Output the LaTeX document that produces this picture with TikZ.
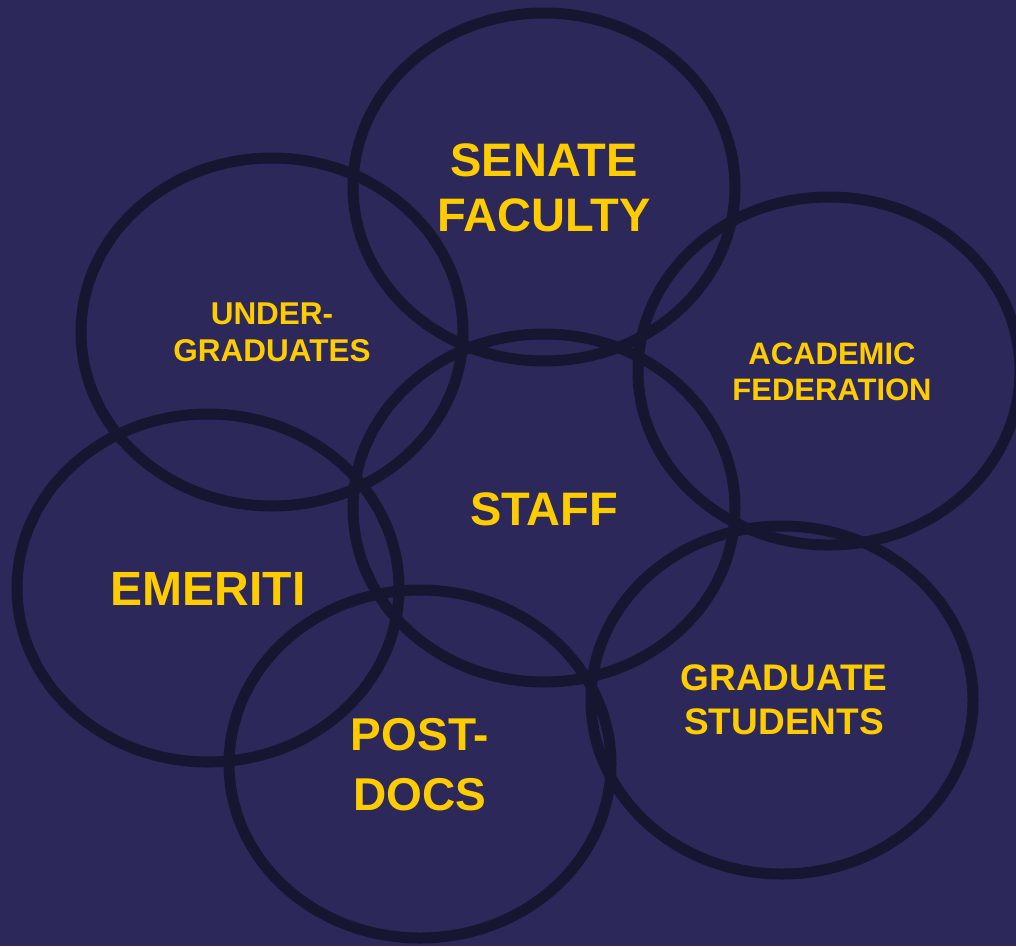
\documentclass[tikz,border=0pt]{standalone}
\usepackage{fontspec}
\setmainfont{Liberation Sans}
\definecolor{bgnavy}{HTML}{2C2859}
\definecolor{ringdark}{HTML}{171631}
\definecolor{gold}{HTML}{FFCC00}
\begin{document}
\begin{tikzpicture}[x=1pt,y=-1pt,
  ring/.style={draw=ringdark,line width=11pt},
  lbl/.style={text=gold,align=center,inner sep=0pt,font=\bfseries}]
\fill[bgnavy] (0,0) rectangle (1016,946);
\useasboundingbox (0,0) rectangle (1016,946);
\begin{scope}
\clip (0,0) rectangle (1016,946);
\draw[ring] (544,187) ellipse [x radius=191,y radius=174];
\draw[ring] (272,332) ellipse [x radius=191,y radius=174];
\draw[ring] (829,371) ellipse [x radius=191,y radius=174];
\draw[ring] (544,508) ellipse [x radius=191,y radius=174];
\draw[ring] (208,588) ellipse [x radius=191,y radius=174];
\draw[ring] (420,764) ellipse [x radius=191,y radius=174];
\draw[ring] (782,700) ellipse [x radius=191,y radius=174];
\end{scope}
\node[lbl,font=\bfseries\fontsize{47}{55}\selectfont] (senate) at (544,188) {SENATE\\FACULTY};
\node[lbl,font=\bfseries\fontsize{31.5}{37}\selectfont] (under) at (272,332) {UNDER-\\GRADUATES};
\node[lbl,font=\bfseries\fontsize{31}{36}\selectfont] (acad) at (832,372) {ACADEMIC\\FEDERATION};
\node[lbl,font=\bfseries\fontsize{47}{55}\selectfont] (staff) at (544,509) {STAFF};
\node[lbl,font=\bfseries\fontsize{48}{55}\selectfont] (emer) at (208,589) {EMERITI};
\node[lbl,font=\bfseries\fontsize{46}{60}\selectfont] (post) at (420,765) {POST-\\DOCS};
\node[lbl,font=\bfseries\fontsize{37}{44}\selectfont] (grad) at (784,700) {GRADUATE\\STUDENTS};
\end{tikzpicture}
\end{document}
